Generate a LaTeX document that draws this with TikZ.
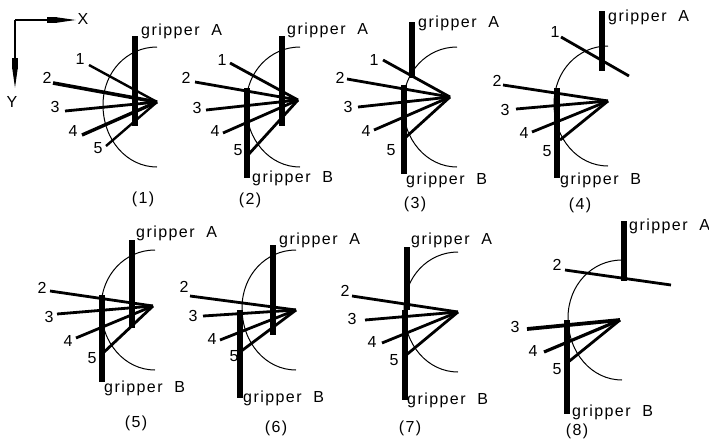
\documentclass[tikz,border=0pt]{standalone}
\usepackage{fontspec}
\setmainfont{Liberation Sans}[LetterSpace=9]
\usetikzlibrary{arrows.meta}
\newcommand{\sweep}[1]{\draw[sweepline] (#1) .. controls +(-30,0) and +(0,-33) .. ++(-54,58) .. controls +(0,35) and +(-30,0) .. ++(54,62);}

\begin{document}
\begin{tikzpicture}[
  x=1pt, y=-1pt,
  font=\fontsize{16}{18}\selectfont,
  bar/.style={line width=5.2pt},
  finger/.style={line width=2.8pt},
  sweepline/.style={line width=1pt},
  axis/.style={line width=1.2pt},
  num/.style={inner sep=0pt},
  glabel/.style={inner sep=0pt, anchor=west},
  tag/.style={inner sep=0pt},
]
\useasboundingbox (0,0) rectangle (709,440);

% ---- axes ----
\coordinate (O) at (15,20);
\node[num] (X) at (83,19) {X};
\node[num] (Y) at (12,102) {Y};
\coordinate (Xe) at (76,20);
\coordinate (Ye) at (15,88);
\draw[axis, -{Rectangle[length=10pt,width=6.5pt]Triangle[length=19pt,width=5pt]}] (O) -- (Xe);
\draw[axis, -{Rectangle[length=11pt,width=6.5pt]Triangle[length=19pt,width=5pt]}] (O) -- (Ye);

% ---- panel (1) ----
\coordinate (tip1) at (157,102);
\coordinate (top1) at (157,47);
\sweep{top1}
\foreach \n/\lx/\ly/\sx/\sy/\w in {1/80/59/89/65/2.4, 2/47/78/53/83/3.6, 3/55/107/65/111/2.8, 4/73/131/82/135/3.4, 5/98/148/106/146/2.4}{
  \node[num] (n\n-1) at (\lx,\ly) {\n};
  \coordinate (s\n-1) at (\sx,\sy);
  \draw[finger, line width=\w pt] (s\n-1) -- (tip1);
}
\coordinate (a1t) at (135,36);
\coordinate (a1b) at (135,126);
\draw[bar, line width=6pt] (a1t) -- (a1b);
\node[glabel] (gA1) at (141,31) {gripper\ \ A};
\node[tag] (c1) at (143,199) {(1)};

% ---- panel (2) ----
\coordinate (tip2) at (298,100);
\coordinate (top2) at (300,47);
\sweep{top2}
\foreach \n/\lx/\ly/\sx/\sy in {1/222/60/230/63, 2/186/78/195/82, 3/197/108/206/110, 4/215/131/223/133, 5/238/150/248/155}{
  \node[num] (n\n-2) at (\lx,\ly) {\n};
  \coordinate (s\n-2) at (\sx,\sy);
  \draw[finger] (s\n-2) -- (tip2);
}
\coordinate (a2t) at (282,36);
\coordinate (a2b) at (282,126);
\coordinate (b2t) at (247,88);
\coordinate (b2b) at (247,178);
\draw[bar] (a2t) -- (a2b);
\draw[bar] (b2t) -- (b2b);
\node[glabel] (gA2) at (287,30) {gripper\ \ A};
\node[glabel] (gB2) at (252,178) {gripper\ \ B};
\node[tag] (c2) at (250,200) {(2)};

% ---- panel (3) ----
\coordinate (tip3) at (450,97);
\coordinate (top3) at (457,47);
\sweep{top3}
\foreach \n/\lx/\ly/\sx/\sy in {1/374/60/383/60, 2/340/78/347/79, 3/348/107/358/107, 4/366/131/374/130, 5/391/150/406/137}{
  \node[num] (n\n-3) at (\lx,\ly) {\n};
  \coordinate (s\n-3) at (\sx,\sy);
  \draw[finger] (s\n-3) -- (tip3);
}
\coordinate (a3t) at (412,22);
\coordinate (a3b) at (412,78);
\coordinate (b3t) at (404,85);
\coordinate (b3b) at (404,174);
\draw[bar] (a3t) -- (a3b);
\draw[bar] (b3t) -- (b3b);
\node[glabel] (gA3) at (418,23) {gripper\ \ A};
\node[glabel] (gB3) at (406,180) {gripper\ \ B};
\node[tag] (c3) at (415,204) {(3)};

% ---- panel (4) ----
\coordinate (tip4) at (608,101);
\coordinate (top4) at (608,46);
\sweep{top4}
\foreach \n/\lx/\ly/\sx/\sy in {2/497/81/503/85, 3/505/110/516/109, 4/524/133/532/132, 5/547/151/560/140}{
  \node[num] (n\n-4) at (\lx,\ly) {\n};
  \coordinate (s\n-4) at (\sx,\sy);
  \draw[finger] (s\n-4) -- (tip4);
}
\node[num] (n1-4) at (555,32) {1};
\coordinate (s1-4) at (561,37);
\coordinate (e1-4) at (629,76);
\draw[finger] (s1-4) -- (e1-4);
\coordinate (a4t) at (602,11);
\coordinate (a4b) at (602,71);
\coordinate (b4t) at (557,88);
\coordinate (b4b) at (557,178);
\draw[bar] (a4t) -- (a4b);
\draw[bar] (b4t) -- (b4b);
\node[glabel] (gA4) at (608,17) {gripper\ \ A};
\node[glabel] (gB4) at (560,180) {gripper\ \ B};
\node[tag] (c4) at (580,205) {(4)};

% ---- panel (5) ----
\coordinate (tip5) at (153,306);
\coordinate (top5) at (155,250);
\sweep{top5}
\foreach \n/\lx/\ly/\sx/\sy in {2/42/288/50/291, 3/49/317/57/314, 4/68/341/76/338, 5/92/358/102/354}{
  \node[num] (n\n-5) at (\lx,\ly) {\n};
  \coordinate (s\n-5) at (\sx,\sy);
  \draw[finger] (s\n-5) -- (tip5);
}
\coordinate (a5t) at (132,240);
\coordinate (a5b) at (132,328);
\coordinate (b5t) at (102,295);
\coordinate (b5b) at (102,382);
\draw[bar] (a5t) -- (a5b);
\draw[bar] (b5t) -- (b5b);
\node[glabel] (gA5) at (136,233) {gripper\ \ A};
\node[glabel] (gB5) at (104,388) {gripper\ \ B};
\node[tag] (c5) at (136,423) {(5)};

% ---- panel (6) ----
\coordinate (tip6) at (296,310);
\coordinate (top6) at (296,250);
\sweep{top6}
\foreach \n/\lx/\ly/\sx/\sy in {2/184/287/190/296, 3/193/316/203/316, 4/212/339/220/340, 5/234/356/240/352}{
  \node[num] (n\n-6) at (\lx,\ly) {\n};
  \coordinate (s\n-6) at (\sx,\sy);
  \draw[finger] (s\n-6) -- (tip6);
}
\coordinate (a6t) at (273,245);
\coordinate (a6b) at (273,335);
\coordinate (b6t) at (240,310);
\coordinate (b6b) at (240,398);
\draw[bar] (a6t) -- (a6b);
\draw[bar] (b6t) -- (b6b);
\node[glabel] (gA6) at (279,240) {gripper\ \ A};
\node[glabel] (gB6) at (243,398) {gripper\ \ B};
\node[tag] (c6) at (276,428) {(6)};

% ---- panel (7) ----
\coordinate (tip7) at (458,312);
\coordinate (top7) at (458,252);
\sweep{top7}
\foreach \n/\lx/\ly/\sx/\sy in {2/345/291/352/296, 3/352/319/365/320, 4/372/342/382/343, 5/394/360/405/356}{
  \node[num] (n\n-7) at (\lx,\ly) {\n};
  \coordinate (s\n-7) at (\sx,\sy);
  \draw[finger] (s\n-7) -- (tip7);
}
\coordinate (a7t) at (407,247);
\coordinate (a7b) at (407,310);
\coordinate (b7t) at (405,310);
\coordinate (b7b) at (405,400);
\draw[bar] (a7t) -- (a7b);
\draw[bar] (b7t) -- (b7b);
\node[glabel] (gA7) at (411,240) {gripper\ \ A};
\node[glabel] (gB7) at (407,400) {gripper\ \ B};
\node[tag] (c7) at (410,428) {(7)};

% ---- panel (8) ----
\coordinate (tip8) at (620,320);
\coordinate (top8) at (622,260);
\sweep{top8}
\foreach \n/\lx/\ly/\sx/\sy/\w in {3/515/327/527/329/3.8, 4/533/351/544/352/3.2, 5/557/369/567/363/2.8}{
  \node[num] (n\n-8) at (\lx,\ly) {\n};
  \coordinate (s\n-8) at (\sx,\sy);
  \draw[finger, line width=\w pt] (s\n-8) -- (tip8);
}
\node[num] (n2-8) at (557,265) {2};
\coordinate (s2-8) at (565,270);
\coordinate (e2-8) at (671,285);
\draw[finger] (s2-8) -- (e2-8);
\coordinate (a8t) at (624,221);
\coordinate (a8b) at (624,281);
\coordinate (b8t) at (567,320);
\coordinate (b8b) at (567,414);
\draw[bar] (a8t) -- (a8b);
\draw[bar] (b8t) -- (b8b);
\node[glabel] (gA8) at (629,226) {gripper\ \ A};
\node[glabel] (gB8) at (572,412) {gripper\ \ B};
\node[tag] (c8) at (577,431) {(8)};

\end{tikzpicture}
\end{document}
